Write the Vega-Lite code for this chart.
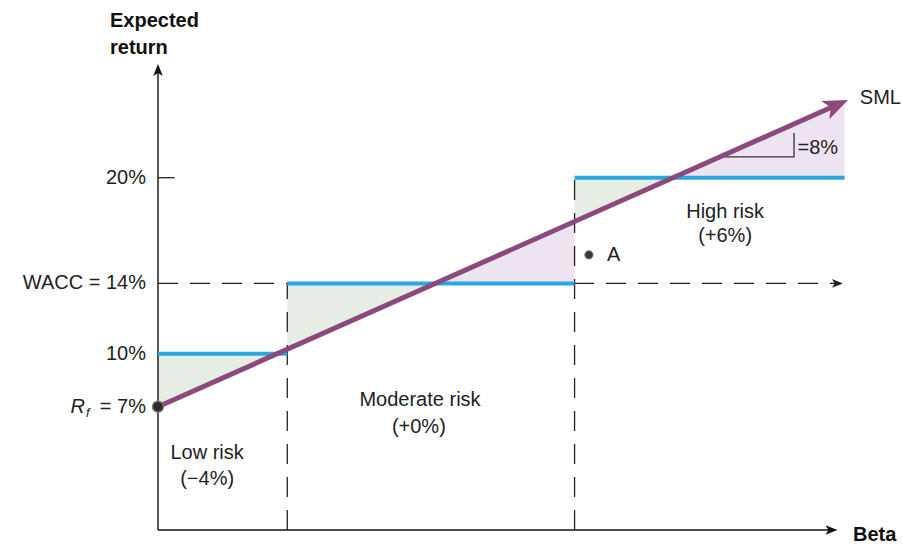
{
  "$schema": "https://vega.github.io/schema/vega-lite/v6.json",
  "width": 678,
  "height": 465,
  "autosize": {"type": "none"},
  "padding": {"left": 158, "top": 65, "right": 67, "bottom": 15},
  "background": "white",
  "config": {"font": "Liberation Sans", "view": {"stroke": null}},
  "datasets": {
    "fills": [
      {"seg": "L1", "kind": "below", "beta": 0, "top": 10, "bot": 7},
      {"seg": "L1", "kind": "below", "beta": 0.414, "top": 10, "bot": 10},
      {"seg": "M1", "kind": "below", "beta": 0.45, "top": 14, "bot": 10.26},
      {"seg": "M1", "kind": "below", "beta": 0.966, "top": 14, "bot": 14},
      {"seg": "M2", "kind": "above", "beta": 0.966, "top": 14, "bot": 14},
      {"seg": "M2", "kind": "above", "beta": 1.45, "top": 17.51, "bot": 14},
      {"seg": "H1", "kind": "below", "beta": 1.45, "top": 20, "bot": 17.51},
      {"seg": "H1", "kind": "below", "beta": 1.793, "top": 20, "bot": 20},
      {"seg": "H2", "kind": "above", "beta": 1.793, "top": 20, "bot": 20},
      {"seg": "H2", "kind": "above", "beta": 2.39, "top": 24.33, "bot": 20}
    ],
    "hurdles": [
      {"b0": 0, "b1": 0.45, "r": 10},
      {"b0": 0.45, "b1": 1.45, "r": 14},
      {"b0": 1.45, "b1": 2.39, "r": 20}
    ],
    "dividers": [
      {"b": 0.45, "r0": 0, "r1": 14},
      {"b": 1.45, "r0": 0, "r1": 20}
    ],
    "wacc": [{"b0": 0, "b1": 2.37, "r": 14}],
    "axesV": [{"b": 0, "r0": 0, "r1": 26.3}],
    "axesH": [{"b0": 0, "b1": 2.355, "r": 0}],
    "sml": [{"beta": 0, "ret": 7}, {"beta": 2.36, "ret": 24.11}],
    "slope": [
      {"o": 1, "beta": 1.97, "ret": 21.18},
      {"o": 2, "beta": 2.214, "ret": 21.18},
      {"o": 3, "beta": 2.214, "ret": 22.54}
    ],
    "tick20": [{"b0": 0, "b1": 0.058, "r": 20}],
    "yLabels": [
      {"beta": 0, "ret": 20, "t": "20%"},
      {"beta": 0, "ret": 14, "t": "WACC = 14%"},
      {"beta": 0, "ret": 10, "t": "10%"},
      {"beta": 0, "ret": 7, "t": "= 7%"}
    ],
    "titles": [
      {"beta": -0.167, "ret": 28.56, "t": "Expected"},
      {"beta": -0.167, "ret": 27.05, "t": "return"},
      {"beta": 2.419, "ret": -0.62, "t": "Beta"}
    ],
    "center_labels": [
      {"beta": 0.171, "ret": 4.37, "t": "Low risk"},
      {"beta": 0.171, "ret": 2.9, "t": "(−4%)"},
      {"beta": 0.912, "ret": 7.38, "t": "Moderate risk"},
      {"beta": 0.908, "ret": 5.85, "t": "(+0%)"},
      {"beta": 1.974, "ret": 18.06, "t": "High risk"},
      {"beta": 1.974, "ret": 16.7, "t": "(+6%)"}
    ],
    "left_labels": [
      {"beta": 1.563, "ret": 15.62, "t": "A"},
      {"beta": 2.443, "ret": 24.53, "t": "SML"},
      {"beta": 2.226, "ret": 21.69, "t": "=8%"}
    ],
    "rf": [{"beta": 0, "ret": 7}],
    "pointA": [{"beta": 1.5, "ret": 15.62}],
    "smlArrow": [{"beta": 2.402, "ret": 24.42}],
    "yArrow": [{"beta": 0, "ret": 26.45}],
    "xArrow": [{"beta": 2.365, "ret": 0}],
    "waccArrow": [{"beta": 2.384, "ret": 14}]
  },
  "layer": [
    {
      "data": {"name": "fills"},
      "mark": {"type": "area", "opacity": 1},
      "encoding": {
        "x": {"field": "beta", "type": "quantitative", "scale": {"domain": [0, 2.36], "nice": false, "zero": false}, "axis": null},
        "y": {"field": "top", "type": "quantitative", "scale": {"domain": [0, 26.4], "nice": false, "zero": false}, "axis": null},
        "y2": {"field": "bot"},
        "detail": {"field": "seg"},
        "color": {
          "field": "kind", "type": "nominal",
          "scale": {"domain": ["below", "above"], "range": ["#e5ede4", "#eee4f1"]},
          "legend": null
        }
      }
    },
    {
      "data": {"name": "dividers"},
      "mark": {"type": "rule", "color": "#222", "strokeWidth": 1.3, "strokeDash": [20, 13]},
      "encoding": {
        "x": {"field": "b", "type": "quantitative", "axis": null},
        "y": {"field": "r0", "type": "quantitative", "axis": null},
        "y2": {"field": "r1"}
      }
    },
    {
      "data": {"name": "wacc"},
      "mark": {"type": "rule", "color": "#222", "strokeWidth": 1.3, "strokeDash": [20, 12]},
      "encoding": {
        "x": {"field": "b0", "type": "quantitative", "axis": null},
        "x2": {"field": "b1"},
        "y": {"field": "r", "type": "quantitative", "axis": null}
      }
    },
    {
      "data": {"name": "axesV"},
      "mark": {"type": "rule", "color": "#111", "strokeWidth": 1.4},
      "encoding": {
        "x": {"field": "b", "type": "quantitative", "axis": null},
        "y": {"field": "r0", "type": "quantitative", "axis": null},
        "y2": {"field": "r1"}
      }
    },
    {
      "data": {"name": "axesH"},
      "mark": {"type": "rule", "color": "#111", "strokeWidth": 1.4},
      "encoding": {
        "x": {"field": "b0", "type": "quantitative", "axis": null},
        "x2": {"field": "b1"},
        "y": {"field": "r", "type": "quantitative", "axis": null}
      }
    },
    {
      "data": {"name": "tick20"},
      "mark": {"type": "rule", "color": "#222", "strokeWidth": 1.3},
      "encoding": {
        "x": {"field": "b0", "type": "quantitative", "axis": null},
        "x2": {"field": "b1"},
        "y": {"field": "r", "type": "quantitative", "axis": null}
      }
    },
    {
      "data": {"name": "hurdles"},
      "mark": {"type": "rule", "color": "#29a8e0", "strokeWidth": 4, "strokeCap": "butt"},
      "encoding": {
        "x": {"field": "b0", "type": "quantitative", "axis": null},
        "x2": {"field": "b1"},
        "y": {"field": "r", "type": "quantitative", "axis": null}
      }
    },
    {
      "data": {"name": "slope"},
      "mark": {"type": "line", "color": "#333", "strokeWidth": 1.3},
      "encoding": {
        "x": {"field": "beta", "type": "quantitative", "axis": null},
        "y": {"field": "ret", "type": "quantitative", "axis": null},
        "order": {"field": "o"}
      }
    },
    {
      "data": {"name": "sml"},
      "mark": {"type": "line", "color": "#8c4a7c", "strokeWidth": 5, "strokeCap": "butt"},
      "encoding": {
        "x": {"field": "beta", "type": "quantitative", "axis": null},
        "y": {"field": "ret", "type": "quantitative", "axis": null}
      }
    },
    {
      "data": {"name": "smlArrow"},
      "mark": {"type": "point", "shape": "M0,0 L-2,-0.8 L-1.5,0 L-2,0.8 Z", "size": 625, "angle": 336, "filled": true, "color": "#8c4a7c", "opacity": 1},
      "encoding": {
        "x": {"field": "beta", "type": "quantitative", "axis": null},
        "y": {"field": "ret", "type": "quantitative", "axis": null}
      }
    },
    {
      "data": {"name": "yArrow"},
      "mark": {"type": "point", "shape": "M0,0 L-2,-0.8 L-1.5,0 L-2,0.8 Z", "size": 144, "angle": 270, "filled": true, "color": "#111", "opacity": 1},
      "encoding": {
        "x": {"field": "beta", "type": "quantitative", "axis": null},
        "y": {"field": "ret", "type": "quantitative", "axis": null}
      }
    },
    {
      "data": {"name": "xArrow"},
      "mark": {"type": "point", "shape": "M0,0 L-2,-0.8 L-1.5,0 L-2,0.8 Z", "size": 144, "angle": 0, "filled": true, "color": "#111", "opacity": 1},
      "encoding": {
        "x": {"field": "beta", "type": "quantitative", "axis": null},
        "y": {"field": "ret", "type": "quantitative", "axis": null}
      }
    },
    {
      "data": {"name": "waccArrow"},
      "mark": {"type": "point", "shape": "M0,0 L-2,-0.8 L-1.5,0 L-2,0.8 Z", "size": 121, "angle": 0, "filled": true, "color": "#222", "opacity": 1},
      "encoding": {
        "x": {"field": "beta", "type": "quantitative", "axis": null},
        "y": {"field": "ret", "type": "quantitative", "axis": null}
      }
    },
    {
      "data": {"name": "rf"},
      "mark": {"type": "point", "shape": "circle", "size": 120, "filled": true, "fill": "#2a2a2a", "stroke": "#777", "strokeWidth": 1.5, "opacity": 1},
      "encoding": {
        "x": {"field": "beta", "type": "quantitative", "axis": null},
        "y": {"field": "ret", "type": "quantitative", "axis": null}
      }
    },
    {
      "data": {"name": "pointA"},
      "mark": {"type": "point", "shape": "circle", "size": 70, "filled": true, "fill": "#3a3a3a", "stroke": "#888", "strokeWidth": 1, "opacity": 1},
      "encoding": {
        "x": {"field": "beta", "type": "quantitative", "axis": null},
        "y": {"field": "ret", "type": "quantitative", "axis": null}
      }
    },
    {
      "data": {"name": "yLabels"},
      "mark": {"type": "text", "align": "right", "baseline": "middle", "fontSize": 20, "color": "#222", "dx": -12, "font": "Liberation Sans"},
      "encoding": {
        "x": {"field": "beta", "type": "quantitative", "axis": null},
        "y": {"field": "ret", "type": "quantitative", "axis": null},
        "text": {"field": "t"}
      }
    },
    {
      "data": {"name": "titles"},
      "mark": {"type": "text", "align": "left", "baseline": "alphabetic", "fontSize": 20, "fontWeight": "bold", "color": "#111", "font": "Liberation Sans"},
      "encoding": {
        "x": {"field": "beta", "type": "quantitative", "axis": null},
        "y": {"field": "ret", "type": "quantitative", "axis": null},
        "text": {"field": "t"}
      }
    },
    {
      "data": {"name": "center_labels"},
      "mark": {"type": "text", "align": "center", "baseline": "middle", "fontSize": 20, "color": "#222", "font": "Liberation Sans"},
      "encoding": {
        "x": {"field": "beta", "type": "quantitative", "axis": null},
        "y": {"field": "ret", "type": "quantitative", "axis": null},
        "text": {"field": "t"}
      }
    },
    {
      "data": {"name": "left_labels"},
      "mark": {"type": "text", "align": "left", "baseline": "middle", "fontSize": 20, "color": "#222", "font": "Liberation Sans"},
      "encoding": {
        "x": {"field": "beta", "type": "quantitative", "axis": null},
        "y": {"field": "ret", "type": "quantitative", "axis": null},
        "text": {"field": "t"}
      }
    },
    {
      "data": {"values": [{"beta": 0, "ret": 7, "t": "R"}]},
      "mark": {"type": "text", "align": "right", "baseline": "middle", "fontSize": 20, "fontStyle": "italic", "color": "#222", "dx": -73, "font": "Liberation Sans"},
      "encoding": {
        "x": {"field": "beta", "type": "quantitative", "axis": null},
        "y": {"field": "ret", "type": "quantitative", "axis": null},
        "text": {"field": "t"}
      }
    },
    {
      "data": {"values": [{"beta": 0, "ret": 7, "t": "f"}]},
      "mark": {"type": "text", "align": "left", "baseline": "middle", "fontSize": 13, "fontStyle": "italic", "color": "#222", "dx": -72, "dy": 6, "font": "Liberation Sans"},
      "encoding": {
        "x": {"field": "beta", "type": "quantitative", "axis": null},
        "y": {"field": "ret", "type": "quantitative", "axis": null},
        "text": {"field": "t"}
      }
    }
  ]
}
